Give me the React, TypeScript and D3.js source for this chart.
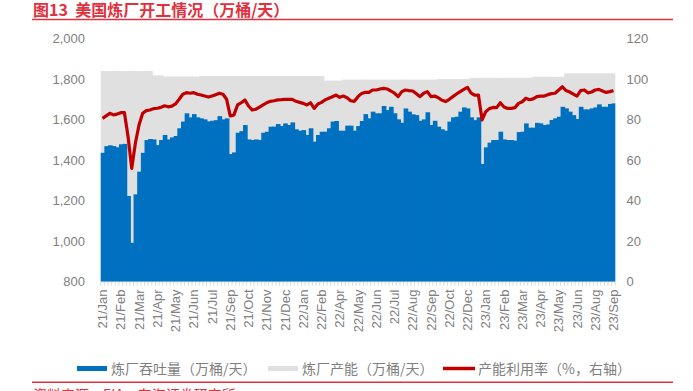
import React from "react";
import * as d3 from "d3";

// ---- data ----
const startDate = new Date(2021, 0, 1);
const nWeeks = 141;
const categories: Date[] = d3.range(nWeeks).map((i) => d3.timeDay.offset(startDate, 7 * i));
const tickLabels = [
  "21/Jan","21/Feb","21/Mar","21/Apr","21/May","21/Jun","21/Jul","21/Sep","21/Oct","21/Nov",
  "21/Dec","22/Jan","22/Feb","22/Apr","22/May","22/Jun","22/Jul","22/Aug","22/Sep","22/Oct",
  "22/Dec","23/Jan","23/Feb","23/Mar","23/Apr","23/May","23/Jun","23/Aug","23/Sep",
];
const throughput = [
  1436,1469,1473,1469,1463,1478,1480,1223,992,1231,
  1343,1436,1499,1504,1502,1474,1499,1524,1502,1512,
  1519,1557,1590,1631,1611,1627,1611,1606,1601,1591,
  1594,1597,1617,1601,1606,1430,1438,1535,1543,1573,
  1502,1499,1502,1499,1535,1540,1565,1565,1578,1568,
  1581,1573,1586,1552,1545,1548,1524,1557,1491,1524,
  1540,1540,1557,1590,1593,1545,1545,1570,1570,1545,
  1568,1593,1627,1606,1639,1631,1631,1667,1647,1663,
  1631,1601,1584,1655,1639,1626,1622,1594,1601,1636,
  1573,1594,1565,1552,1545,1590,1611,1614,1639,1660,
  1655,1611,1597,1611,1381,1463,1486,1499,1499,1540,
  1502,1499,1499,1496,1538,1540,1581,1560,1560,1584,
  1581,1573,1576,1598,1606,1614,1663,1655,1639,1622,
  1603,1663,1650,1650,1655,1660,1675,1663,1663,1677,
  1680,
];
const capacity = [
  1840,1840,1840,1840,1840,1840,1840,1840,1840,1840,
  1840,1840,1840,1840,1818,1818,1818,1812,1812,1812,
  1812,1812,1812,1812,1812,1812,1812,1815,1815,1815,
  1815,1815,1815,1815,1815,1815,1815,1815,1815,1815,
  1815,1815,1815,1815,1815,1815,1815,1815,1815,1815,
  1815,1815,1815,1815,1815,1815,1815,1815,1815,1815,
  1815,1792,1792,1792,1792,1792,1797,1797,1797,1797,
  1797,1797,1797,1797,1797,1797,1797,1797,1797,1797,
  1797,1797,1797,1797,1797,1797,1797,1797,1797,1797,
  1797,1797,1800,1800,1800,1800,1800,1800,1800,1800,
  1800,1806,1806,1806,1806,1806,1806,1806,1806,1806,
  1806,1806,1806,1806,1806,1806,1806,1806,1811,1811,
  1811,1811,1811,1811,1811,1811,1811,1828,1828,1828,
  1828,1828,1828,1828,1828,1828,1828,1828,1828,1828,
  1828,
];
const utilization = [
  80.6,81.8,83.1,82.3,82.7,83.4,83.4,71.5,55.9,68.3,
  77.3,83.1,84.4,84.7,85.4,85.6,86.0,86.8,86.3,86.6,
  87.7,90.0,92.5,93.3,93.0,93.3,92.5,92.1,91.6,91.1,
  91.6,92.3,93.0,92.5,90.0,81.8,82.3,87.2,88.3,89.7,
  86.7,84.7,85.1,86.1,87.2,88.3,89.0,89.3,89.7,89.8,
  90.0,90.0,90.0,89.0,88.5,88.0,87.2,88.3,85.5,87.7,
  88.5,89.7,90.5,91.3,92.1,91.0,91.6,90.8,89.3,89.0,
  91.3,92.9,93.4,93.4,94.6,94.6,95.1,95.4,95.1,94.1,
  93.0,91.3,93.8,94.6,94.3,94.1,92.7,91.3,93.0,93.8,
  91.3,91.6,90.8,89.5,88.9,90.0,91.3,92.6,93.8,94.9,
  95.9,93.0,92.0,92.1,79.8,83.9,85.4,86.0,85.9,88.3,
  86.2,85.5,85.5,85.9,88.0,88.8,90.5,89.8,90.2,91.3,
  91.6,91.6,92.3,92.8,93.0,94.6,96.2,94.3,93.6,92.6,
  91.6,94.3,94.6,93.2,93.6,94.6,94.9,94.1,93.4,93.8,
  94.3,
];
const leftTicks = [800, 1000, 1200, 1400, 1600, 1800, 2000];
const rightTicks = [0, 20, 40, 60, 80, 100, 120];
const legendLabels = ["炼厂吞吐量（万桶/天）", "炼厂产能（万桶/天）", "产能利用率（%，右轴）"];
const titleText = "图13  美国炼厂开工情况（万桶/天）";
const sourceText = "资料来源：EIA，东海证券研究所";

// ---- layout ----
const W = 693, H = 391;
const plotL = 100.7, plotR = 615.3, plotT = 38.5, plotB = 281.7;
const BLUE = "#0070C0", GRAY = "#E0E0E0", RED = "#C00000", TITLE_RED = "#E2303E";
const AXIS_TXT = "#808080";
const numFont = "'Liberation Sans', Arial, sans-serif";
const cjkFont = "'Noto Sans CJK SC', 'Noto Sans', sans-serif";

export default function App() {
  const x = d3.scaleBand<number>().domain(d3.range(nWeeks)).range([plotL, plotR]).paddingInner(0).paddingOuter(0);
  const yL = d3.scaleLinear().domain([800, 2000]).range([plotB, plotT]);
  const yR = d3.scaleLinear().domain([0, 120]).range([plotB, plotT]);
  const bw = x.bandwidth();
  const fmt = d3.timeFormat("%y/%b");
  const line = d3
    .line<number>()
    .x((_, i) => (x(i) as number) + bw / 2)
    .y((d) => yR(d))
    .curve(d3.curveLinear);
  const labelIdx = d3.range(0, nWeeks, 5);

  return (
    <svg width={W} height={H} style={{ position: "absolute", left: 0, top: 0, background: "#fff" }}>
      {/* title */}
      <text x={33} y={15.5} fontFamily={cjkFont} fontWeight="bold" fontSize={16} fill={TITLE_RED} xmlSpace="preserve" style={{ whiteSpace: "pre" }}>
        {titleText}
      </text>
      <line x1={32} x2={673} y1={19.5} y2={19.5} stroke={TITLE_RED} strokeWidth={1.5} />

      {/* capacity bars */}
      {capacity.map((v, i) => (
        <rect key={"c" + i} x={x(i)} y={yL(v)} width={i === nWeeks - 1 ? bw : bw + 1} height={plotB - yL(v)} fill={GRAY} />
      ))}
      {/* throughput bars */}
      {throughput.map((v, i) => (
        <rect key={"t" + i} x={x(i)} y={yL(v)} width={i === nWeeks - 1 ? bw : bw + 1} height={plotB - yL(v)} fill={BLUE} />
      ))}
      {/* utilization line */}
      <path d={line(utilization) || ""} fill="none" stroke={RED} strokeWidth={3.2} strokeLinejoin="round" />

      {/* category ticks */}
      {d3.range(nWeeks + 1).map((i) => {
        const xx = plotL + i * bw;
        return <line key={"k" + i} x1={xx} x2={xx} y1={plotB + 0.5} y2={plotB + 4} stroke="#D9D9D9" strokeWidth={1} />;
      })}
      <line x1={plotL} x2={plotR} y1={plotB + 0.5} y2={plotB + 0.5} stroke="#E6E6E6" strokeWidth={1} />

      {/* left axis */}
      {leftTicks.map((t) => (
        <text key={"l" + t} x={85} y={yL(t)} dy="0.35em" textAnchor="end" fontFamily={numFont} fontSize={13} fill={AXIS_TXT}>
          {d3.format(",")(t)}
        </text>
      ))}
      {/* right axis */}
      {rightTicks.map((t) => (
        <text key={"r" + t} x={626.5} y={yR(t)} dy="0.35em" textAnchor="start" fontFamily={numFont} fontSize={13} fill={AXIS_TXT}>
          {t}
        </text>
      ))}
      {/* x labels */}
      {labelIdx.map((i, k) => {
        const cx = (x(i) as number) + bw / 2;
        return (
          <text
            key={"x" + i}
            transform={`translate(${cx},289.5) rotate(-90)`}
            dy="0.35em"
            textAnchor="end"
            fontFamily={numFont}
            fontSize={13}
            fill={AXIS_TXT}
          >
            {tickLabels[k] ?? fmt(categories[i])}
          </text>
        );
      })}

      {/* legend */}
      <rect x={77} y={366} width={30} height={5} fill={BLUE} />
      <text x={111} y={373.5} fontFamily={cjkFont} fontSize={14} fill="#7F7F7F">{legendLabels[0]}</text>
      <rect x={268} y={366} width={30} height={5} fill={GRAY} />
      <text x={302} y={373.5} fontFamily={cjkFont} fontSize={14} fill="#7F7F7F">{legendLabels[1]}</text>
      <line x1={443} x2={475} y1={368.5} y2={368.5} stroke={RED} strokeWidth={3.5} />
      <text x={478} y={373.5} fontFamily={cjkFont} fontSize={14} fill="#7F7F7F">{legendLabels[2]}</text>

      {/* footer */}
      <line x1={32} x2={673} y1={382.3} y2={382.3} stroke={TITLE_RED} strokeWidth={1.5} />
      <text x={33} y={400} fontFamily={cjkFont} fontSize={14} fill={TITLE_RED}>{sourceText}</text>
    </svg>
  );
}
